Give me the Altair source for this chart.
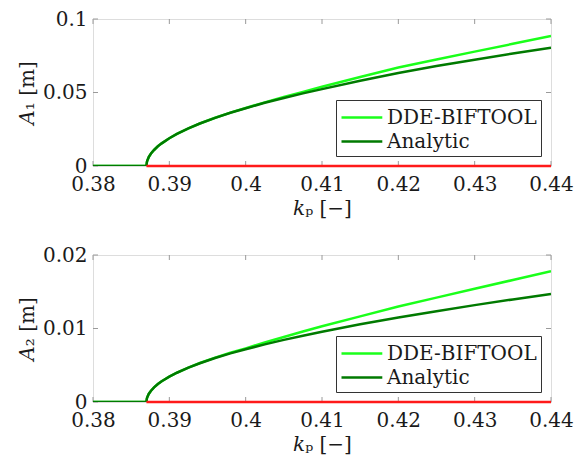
import altair as alt
import pandas as pd

# ---- data ----
kp = [0.380, 0.3870, 0.38705, 0.3871, 0.3873, 0.3876, 0.388, 0.3885, 0.389, 0.390,
      0.391, 0.3925, 0.394, 0.396, 0.398, 0.400, 0.4025, 0.405, 0.4075, 0.410,
      0.415, 0.420, 0.425, 0.430, 0.435, 0.440]

A1_analytic = [0, 0, 0.0024, 0.0035, 0.0060, 0.0085, 0.0109, 0.0134, 0.0154, 0.0189,
               0.0218, 0.0256, 0.0289, 0.0327, 0.0362, 0.0393, 0.0430, 0.0463, 0.0494, 0.0523,
               0.0580, 0.0632, 0.0680, 0.0723, 0.0765, 0.0804]
A1_dde = [0, 0, 0.0024, 0.0035, 0.0060, 0.0085, 0.0109, 0.0134, 0.0154, 0.0189,
          0.0218, 0.0256, 0.0289, 0.0328, 0.0363, 0.0395, 0.0433, 0.0469, 0.0504, 0.0539,
          0.0606, 0.0670, 0.0725, 0.0778, 0.0831, 0.0884]

A2_analytic = [0, 0, 0.00045, 0.00063, 0.00109, 0.00154, 0.00199, 0.00244, 0.00282, 0.00345,
               0.00398, 0.00467, 0.00527, 0.00598, 0.00661, 0.00718, 0.00784, 0.00845, 0.00902, 0.00955,
               0.01058, 0.01150, 0.01235, 0.01318, 0.01396, 0.01470]
A2_dde = [0, 0, 0.00045, 0.00063, 0.00109, 0.00154, 0.00199, 0.00244, 0.00282, 0.00345,
          0.00399, 0.00469, 0.00531, 0.00604, 0.00670, 0.00730, 0.00810, 0.00885, 0.00960, 0.01030,
          0.01165, 0.01300, 0.01420, 0.01540, 0.01660, 0.01780]

unstable_kp = [0.387, 0.440]
unstable_A = [0, 0]

series_names = ["DDE-BIFTOOL", "Analytic"]
series_colors = ["#1aff1a", "#007a00"]

x_ticks = [0.38, 0.39, 0.40, 0.41, 0.42, 0.43, 0.44]
y1_ticks = [0, 0.05, 0.1]
y2_ticks = [0, 0.01, 0.02]

FONT = "DejaVu Serif"
FS = 20
TXT = "#1a1a1a"
W, H = 458, 147
FRAME = "#9a9a9a"


def panel(dde, ana, yticks, ytitle):
    df = pd.DataFrame({
        "kp": kp * 2,
        "A": dde + ana,
        "series": [series_names[0]] * len(kp) + [series_names[1]] * len(kp),
    })
    df_un = pd.DataFrame({"kp": unstable_kp, "A": unstable_A})
    xt = pd.DataFrame({"v": x_ticks})
    yt = pd.DataFrame({"v": yticks})

    xscale = alt.Scale(domain=[x_ticks[0], x_ticks[-1]], nice=False, zero=False)
    yscale = alt.Scale(domain=[yticks[0], yticks[-1]], nice=False)
    color = alt.Color("series:N", scale=alt.Scale(domain=series_names, range=series_colors),
                      legend=alt.Legend(title=None, orient="bottom-right", offset=10,
                                        symbolType="M-1,0L2.4,0", symbolStrokeWidth=2.5,
                                        symbolSize=576, labelFont=FONT, labelFontSize=FS,
                                        labelColor=TXT, labelOffset=20,
                                        strokeColor="#333333", fillColor="white",
                                        padding=4, rowPadding=0, labelLimit=300))

    xaxis = alt.Axis(values=x_ticks, format="~g", title="𝑘ₚ [−]", grid=False, ticks=False,
                     domain=False, labelFont=FONT, labelFontSize=FS, labelColor=TXT,
                     labelPadding=8, titleFont=FONT, titleFontSize=FS, titleFontWeight="normal",
                     titleColor=TXT, titlePadding=4, labelFlush=False)
    yaxis = alt.Axis(values=yticks, format="~g", title=ytitle, grid=False, ticks=False,
                     domain=False, labelFont=FONT, labelFontSize=FS, labelColor=TXT,
                     labelPadding=6, titleFont=FONT, titleFontSize=FS, titleFontWeight="normal",
                     titleColor=TXT, titlePadding=5, labelFlush=False)

    base = alt.Chart(df).encode(
        x=alt.X("kp:Q", scale=xscale, axis=xaxis),
        y=alt.Y("A:Q", scale=yscale, axis=yaxis),
        color=color,
    )
    dde_line = base.mark_line(strokeWidth=2.5, clip=True).transform_filter(
        alt.datum.series == series_names[0])
    ana_line = base.mark_line(strokeWidth=2.5, clip=True).transform_filter(
        alt.datum.series == series_names[1])
    red = alt.Chart(df_un).mark_line(strokeWidth=2.5, color="#ff1a1a").encode(
        x=alt.X("kp:Q", scale=xscale), y=alt.Y("A:Q", scale=yscale))

    tick_style = dict(color=FRAME, strokeWidth=1)
    xb = alt.Chart(xt).mark_rule(**tick_style).encode(
        x=alt.X("v:Q", scale=xscale), y=alt.value(H), y2=alt.value(H - 5))
    xtop = alt.Chart(xt).mark_rule(**tick_style).encode(
        x=alt.X("v:Q", scale=xscale), y=alt.value(0), y2=alt.value(5))
    yl = alt.Chart(yt).mark_rule(**tick_style).encode(
        y=alt.Y("v:Q", scale=yscale), x=alt.value(0), x2=alt.value(5))
    yr = alt.Chart(yt).mark_rule(**tick_style).encode(
        y=alt.Y("v:Q", scale=yscale), x=alt.value(W), x2=alt.value(W - 5))

    return alt.layer(xb, xtop, yl, yr, dde_line, ana_line, red).properties(width=W, height=H)


top = panel(A1_dde, A1_analytic, y1_ticks, "𝐴₁ [m]")
bottom = panel(A2_dde, A2_analytic, y2_ticks, "𝐴₂ [m]")

chart = alt.vconcat(top, bottom, spacing=25).resolve_scale(color="independent").properties(
    padding={"left": 8, "top": 0, "right": 0, "bottom": 0}
).configure_view(
    stroke=FRAME, strokeWidth=1
).configure(background="white")

chart.save("out.html", embed_options={"renderer": "svg", "actions": False})
